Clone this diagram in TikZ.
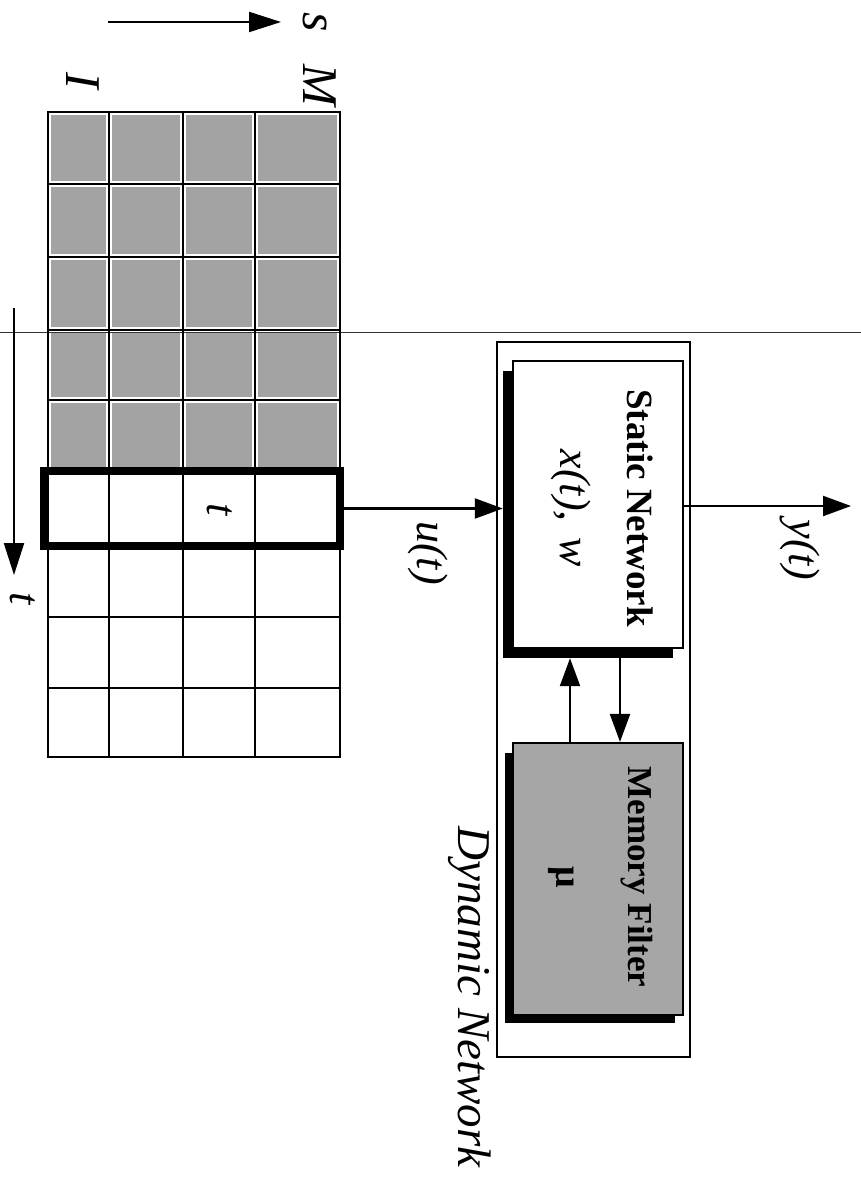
\documentclass[tikz,border=0pt]{standalone}
\usepackage{fontspec}
\setmainfont{Liberation Serif}
\usetikzlibrary{arrows.meta}
\begin{document}
\begin{tikzpicture}[x=1pt,y=-1pt,
  conn/.style={line width=2.2pt,-{Triangle[length=28pt,width=20pt]}},
  lbl/.style={rotate=-90,inner sep=0pt,font=\fontsize{44}{50}\selectfont\itshape},
  biglbl/.style={rotate=-90,inner sep=0pt,font=\fontsize{50}{56}\selectfont\itshape},
  boxtitle/.style={rotate=-90,inner sep=0pt,font=\fontsize{36}{40}\selectfont\bfseries},
  blk/.style={draw,line width=2.2pt,minimum width=170pt,inner sep=0pt},
  shadowbox/.style={fill=black,draw=none,minimum width=170pt,inner sep=0pt},
  shadecell/.style={fill=black!36},
  gridline/.style={line width=2.2pt}]
\useasboundingbox (0,0) rectangle (861,1182);
\fill[white] (0,0) rectangle (861,1182);
% fold line
\draw[line width=1pt,black!80] (0,332) -- (861,332);
% grid shaded cells
\foreach \xa/\xb in {48/109,109/183,183/255,255/340}
  \foreach \ya/\yb in {112/184,184/257,257/330,330/400,400/471}
    {\fill[shadecell] (\xa+3,\ya+3) rectangle (\xb-3,\yb-3);}
% grid lines
\draw[gridline] (48,112) rectangle (340,757);
\foreach \xx in {109,183,255} \draw[gridline] (\xx,112) -- (\xx,757);
\foreach \yy in {184,257,330,400,471,546,617,688} \draw[gridline] (48,\yy) -- (340,\yy);
% highlighted row
\node[draw,line width=8pt,minimum width=296pt,minimum height=75pt,inner sep=0pt] (row) at (192,508.5) {};
\node[lbl] (tcell) at (220,510) {t};
% axis labels
\coordinate (sA) at (108,22);
\coordinate (sB) at (281,22);
\draw[conn,-{Triangle[length=32pt,width=20pt]}] (sA) -- (sB);
\node[biglbl] (slbl) at (315,22) {s};
\node[biglbl] (Mlbl) at (320,85) {M};
\node[biglbl] (Ilbl) at (83,81) {I};
\coordinate (tA) at (14,308);
\coordinate (tB) at (14,575);
\draw[conn,-{Triangle[length=32pt,width=20pt]}] (tA) -- (tB);
\node[lbl] (tlbl) at (23,599) {t};
% dynamic network outer box
\node[draw,line width=2.2pt,minimum width=193pt,minimum height=715pt,inner sep=0pt] (dyn) at (593.5,699.5) {};
\node[rotate=-90,inner sep=0pt,font=\fontsize{47}{52}\selectfont\itshape] (dynlbl) at (470,997) {Dynamic Network};
% static network
\node[shadowbox,minimum height=287pt] (sshadow) at (588,514.5) {};
\node[blk,fill=white,minimum height=287pt] (static) at (598,504.5) {};
\node[boxtitle,font=\fontsize{37}{40}\selectfont\bfseries] (stxt) at (640,508) {Static Network};
\node[lbl] (xw) at (571,508) {x(t),\hspace{0.35em}w};
% memory filter
\node[shadowbox,minimum height=270pt] (mshadow) at (590,888) {};
\node[blk,fill=black!35,minimum height=272pt] (mem) at (598,879) {};
\node[boxtitle,font=\fontsize{35}{40}\selectfont\bfseries] (mtxt) at (637,877) {Memory Filter};
\node[rotate=-90,inner sep=0pt,font=\fontsize{38}{40}\selectfont\bfseries] (mu) at (561,877) {μ};
% connectors
\draw[conn] (row.east) -- (row.east -| sshadow.west);
\node[lbl] (ulbl) at (428,553) {u(t)};
\coordinate (yend) at (851,506);
\draw[conn] (static.east |- yend) -- (yend);
\node[lbl] (ylbl) at (800,550) {y(t)};
\coordinate (upx) at (570,700);
\coordinate (dnx) at (620,700);
\draw[conn] (upx |- mem.north) -- (upx |- sshadow.south);
\draw[conn] (dnx |- sshadow.south) -- (dnx |- mem.north);
\end{tikzpicture}
\end{document}
